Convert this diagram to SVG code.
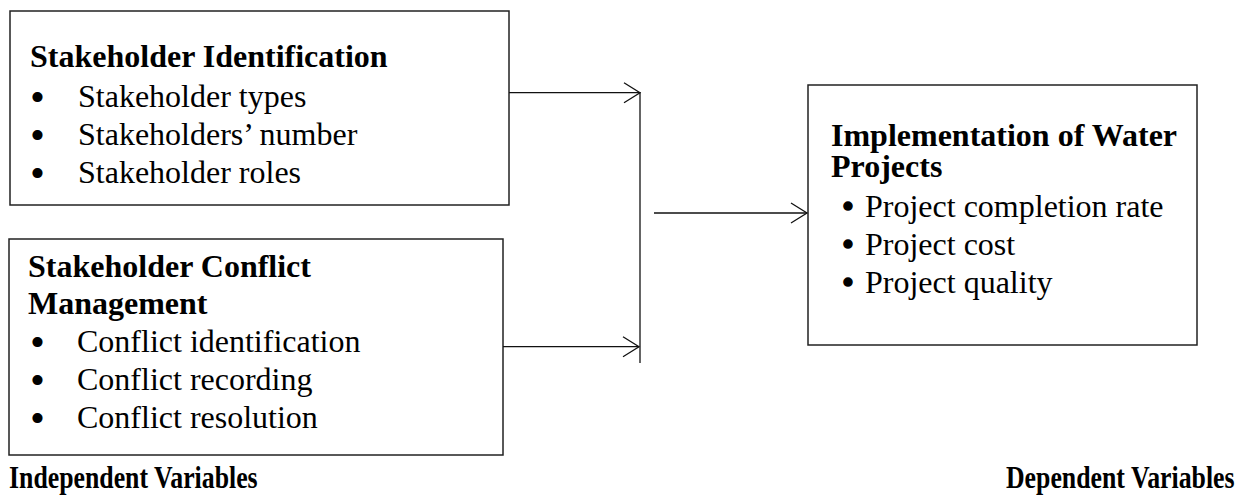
<svg xmlns="http://www.w3.org/2000/svg" width="1245" height="495" viewBox="0 0 1245 495">
<defs>
<marker id="arr" markerUnits="userSpaceOnUse" markerWidth="20" markerHeight="24" refX="17" refY="12" orient="auto" viewBox="0 0 20 24">
<path d="M1,2 L17,12 L1,22" fill="none" stroke="#111" stroke-width="1.3"/>
</marker>
</defs>
<style>
.box{fill:#fff;stroke:#222;stroke-width:1.5}
.h{font-family:"Liberation Serif","Times New Roman",serif;font-weight:bold;font-size:32px;fill:#000}
.t{font-family:"Liberation Serif","Times New Roman",serif;font-size:32px;fill:#000}
.b{font-family:"Liberation Serif","Times New Roman",serif;font-size:34px;fill:#000;stroke:#000;stroke-width:2;text-anchor:middle}
.b2{font-family:"Liberation Serif","Times New Roman",serif;font-size:34px;fill:#000;stroke:#000;stroke-width:1.4;text-anchor:middle}
.c{fill:none;stroke:#111;stroke-width:1.3}
.lbl{font-family:"Liberation Serif","Times New Roman",serif;font-weight:bold;font-size:25.8px;fill:#000}
</style>
<rect width="1245" height="495" fill="#fff"/>
<g id="stakeholder-identification">
<rect class="box" x="10" y="11" width="499" height="194"/>
<text class="h" x="30" y="67">Stakeholder Identification</text>
<text class="b" x="37.5" y="108.5">•</text>
<text class="t" x="78" y="107">Stakeholder types</text>
<text class="b" x="37.5" y="146.5">•</text>
<text class="t" x="78" y="145">Stakeholders’ number</text>
<text class="b" x="37.5" y="184.5">•</text>
<text class="t" x="78" y="183">Stakeholder roles</text>
</g>
<g id="stakeholder-conflict-management">
<rect class="box" x="9" y="239" width="494" height="216"/>
<text class="h"><tspan x="28" y="277">Stakeholder Conflict</tspan><tspan x="28" y="314">Management</tspan></text>
<text class="b" x="37.5" y="353.5">•</text>
<text class="t" x="77" y="352">Conflict identification</text>
<text class="b" x="37.5" y="391.5">•</text>
<text class="t" x="77" y="390">Conflict recording</text>
<text class="b" x="37.5" y="429.5">•</text>
<text class="t" x="77" y="428">Conflict resolution</text>
</g>
<g id="implementation-of-water-projects">
<rect class="box" x="808" y="85" width="389" height="260"/>
<text class="h"><tspan x="831" y="146">Implementation of Water</tspan><tspan x="831" y="177">Projects</tspan></text>
<text class="b2" x="848" y="218.3">•</text>
<text class="t" x="865" y="217">Project completion rate</text>
<text class="b2" x="848" y="256.3">•</text>
<text class="t" x="865" y="255">Project cost</text>
<text class="b2" x="848" y="294.3">•</text>
<text class="t" x="865" y="293">Project quality</text>
</g>
<g id="connectors">
<line class="c" x1="509" y1="92.7" x2="640" y2="92.7" marker-end="url(#arr)"/>
<line class="c" x1="503" y1="346.7" x2="639" y2="346.7" marker-end="url(#arr)"/>
<line class="c" x1="640" y1="92" x2="640" y2="363"/>
<line class="c" x1="654" y1="213" x2="807" y2="213" marker-end="url(#arr)"/>
</g>
<g id="labels">
<text class="lbl" transform="translate(9,488) scale(1,1.2)" x="0" y="0">Independent Variables</text>
<text class="lbl" transform="translate(1006,488) scale(1,1.2)" x="0" y="0">Dependent Variables</text>
</g>
</svg>
